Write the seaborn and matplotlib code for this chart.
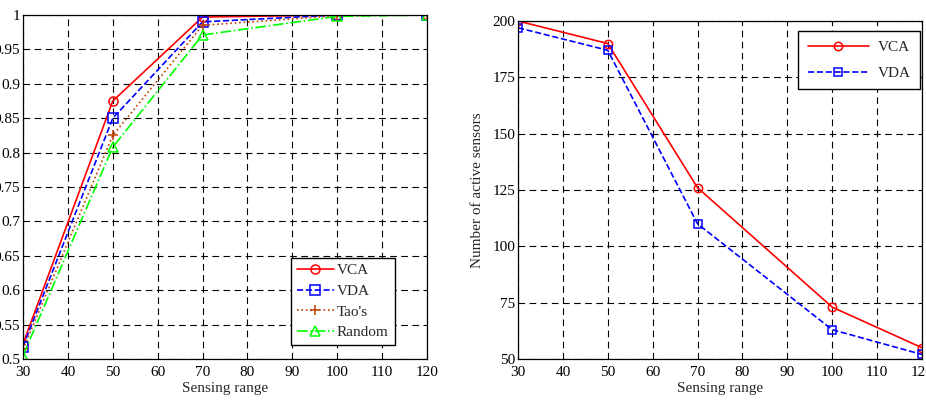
import numpy as np
import pandas as pd
import matplotlib
matplotlib.use("Agg")
import matplotlib.pyplot as plt
import seaborn as sns

# data
sensing_range = [30, 50, 70, 100, 120]
cov_vca = [0.522, 0.875, 0.997, 1.0, 1.0]
cov_vda = [0.518, 0.850, 0.990, 1.0, 1.0]
cov_tao = [0.514, 0.825, 0.985, 0.999, 1.0]
cov_random = [0.505, 0.808, 0.971, 0.998, 1.0]
active_vca = [200, 190, 126, 73, 55]
active_vda = [197, 187, 110, 63, 52]
x_ticks = [30, 40, 50, 60, 70, 80, 90, 100, 110, 120]
left_yticks = [0.5, 0.55, 0.6, 0.65, 0.7, 0.75, 0.8, 0.85, 0.9, 0.95, 1.0]
left_ylabels = ["0.5", "0.55", "0.6", "0.65", "0.7", "0.75", "0.8", "0.85", "0.9", "0.95", "1"]
right_yticks = [50, 75, 100, 125, 150, 175, 200]

sns.set_style("white")
plt.rcParams['font.family'] = ['Liberation Serif', 'DejaVu Serif']
plt.rcParams['font.size'] = 11

fig = plt.figure(figsize=(9.26, 4.04), dpi=100)
ax1 = fig.add_axes([23/926, 1 - 359/404, 404/926, 344/404])
ax2 = fig.add_axes([518/926, 1 - 359/404, 404/926, 338/404])

left_series = [
    ("VCA", cov_vca, "#FF0000", "o", "-"),
    ("VDA", cov_vda, "#0000FF", "s", "--"),
    ("Tao's", cov_tao, "#C04000", "+", ":"),
    ("Random", cov_random, "#00FF00", "^", "-."),
]
for label, vals, col, mk, ls in left_series:
    df = pd.DataFrame({"x": sensing_range, "y": vals})
    sns.lineplot(data=df, x="x", y="y", ax=ax1, color=col, marker=mk,
                 linestyle=ls, markersize=6.5, mfc="none", mec=col, mew=1.1,
                 lw=1.2, label=label)

right_series = [
    ("VCA", active_vca, "#FF0000", "o", "-"),
    ("VDA", active_vda, "#0000FF", "s", "--"),
]
for label, vals, col, mk, ls in right_series:
    df = pd.DataFrame({"x": sensing_range, "y": vals})
    sns.lineplot(data=df, x="x", y="y", ax=ax2, color=col, marker=mk,
                 linestyle=ls, markersize=6, mfc="none", mec=col, mew=1.1,
                 lw=1.2, label=label)

# axes styling (matlab-like)
for ax in [ax1, ax2]:
    ax.set_xlim(30, 120)
    ax.set_xticks(x_ticks)
    ax.set_xticklabels([str(t) for t in x_ticks])
    ax.grid(True, color="black", linestyle=(0, (6, 4)), lw=0.8)
    ax.tick_params(direction="in", length=4, colors="black", labelsize=11, pad=2)
    ax.tick_params(axis="x", pad=5)
    for sp in ax.spines.values():
        sp.set_color("black")
        sp.set_linewidth(0.9)
    ax.set_xlabel("Sensing range", fontsize=11, labelpad=2)

ax1.set_ylim(0.5, 1.0)
ax1.set_yticks(left_yticks)
ax1.set_yticklabels(left_ylabels)
ax1.set_ylabel("")

ax2.set_ylim(50, 200)
ax2.set_yticks(right_yticks)
ax2.set_yticklabels([str(t) for t in right_yticks])
ax2.set_ylabel("Number of active sensors", fontsize=11, labelpad=6)

leg1 = ax1.legend(loc="lower right", bbox_to_anchor=(0.92, 0.04), frameon=True,
                  fancybox=False, edgecolor="black", framealpha=1,
                  fontsize=11, handlelength=2.4, borderpad=0.4, labelspacing=0.45,
                  handletextpad=0.2, borderaxespad=0)
leg1.get_frame().set_linewidth(1.0)
leg2 = ax2.legend(loc="upper right", bbox_to_anchor=(0.995, 0.97), frameon=True,
                  fancybox=False, edgecolor="black", framealpha=1,
                  fontsize=11, handlelength=4.0, borderpad=0.6, labelspacing=0.8,
                  handletextpad=0.6, borderaxespad=0)
leg2.get_frame().set_linewidth(1.0)

fig.savefig("out.png", dpi=100)
